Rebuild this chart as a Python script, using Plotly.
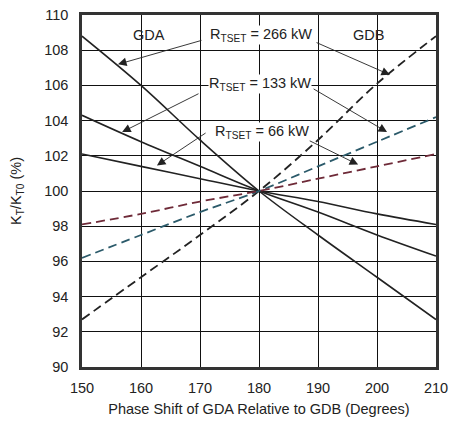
import plotly.graph_objects as go

phase = [150, 160, 170, 180, 190, 200, 210]

# GDA (solid) curves
gda_266 = [108.8, 106.0, 102.9, 100.0, 97.5, 95.1, 92.7]
gda_133 = [104.3, 102.8, 101.4, 100.0, 98.8, 97.5, 96.3]
gda_66 = [102.1, 101.4, 100.7, 100.0, 99.4, 98.7, 98.1]

# GDB (dashed) curves
gdb_266 = [92.7, 95.1, 97.5, 100.0, 102.9, 106.1, 108.8]
gdb_133 = [96.2, 97.5, 98.8, 100.0, 101.4, 102.8, 104.2]
gdb_66 = [98.1, 98.7, 99.4, 100.0, 100.7, 101.4, 102.1]

x_ticks = [150, 160, 170, 180, 190, 200, 210]
y_ticks = [90, 92, 94, 96, 98, 100, 102, 104, 106, 108, 110]

labels = ["R<sub>TSET</sub> = 266 kW", "R<sub>TSET</sub> = 133 kW", "R<sub>TSET</sub> = 66 kW"]
label_pos = [(180.3, 108.86), (180.2, 106.08), (180.5, 103.35)]
# (tail_x, tail_y, head_x, head_y)
arrows = [
    (170.5, 108.58, 156.1, 107.2),
    (189.5, 108.47, 202.2, 106.6),
    (170.0, 105.57, 156.8, 103.35),
    (189.0, 105.85, 201.7, 103.35),
    (171.2, 103.35, 162.7, 101.45),
    (188.3, 102.9, 196.8, 101.5),
]

FONT = "Liberation Sans, Arial, sans-serif"
FS = 14.5

fig = go.Figure()
for ys in [gda_266, gda_133, gda_66]:
    fig.add_trace(go.Scatter(x=phase, y=ys, mode="lines", line=dict(color="#222222", width=1.6),
                             line_shape="spline", showlegend=False, hoverinfo="skip"))
for ys, col in [(gdb_266, "#222222"), (gdb_133, "#2b5a6a"), (gdb_66, "#6e2a38")]:
    fig.add_trace(go.Scatter(x=phase, y=ys, mode="lines",
                             line=dict(color=col, width=1.8, dash="9px,5px"),
                             line_shape="spline", showlegend=False, hoverinfo="skip"))

annotations = []
for (tx, ty, hx, hy) in arrows:
    annotations.append(dict(x=hx, y=hy, ax=tx, ay=ty, xref="x", yref="y", axref="x", ayref="y",
                            text="", showarrow=True, arrowhead=2, arrowsize=1.9, arrowwidth=0.9,
                            arrowcolor="#222222"))
for lab, (lx, ly) in zip(labels, label_pos):
    annotations.append(dict(x=lx, y=ly, xref="x", yref="y", text=lab, showarrow=False,
                            bgcolor="white", borderpad=0,
                            font=dict(size=FS, color="#222222", family=FONT)))
annotations.append(dict(x=161.4, y=108.86, xref="x", yref="y", text="GDA", showarrow=False,
                        font=dict(size=FS, color="#222222", family=FONT)))
annotations.append(dict(x=198.6, y=108.86, xref="x", yref="y", text="GDB", showarrow=False,
                        font=dict(size=FS, color="#222222", family=FONT)))

fig.update_layout(
    template="none",
    width=449, height=422,
    margin=dict(l=82, r=13, t=15, b=55),
    paper_bgcolor="white", plot_bgcolor="white",
    font=dict(family=FONT, size=FS, color="#222222"),
    annotations=annotations,
    xaxis=dict(range=[150, 210], tickvals=x_ticks, showgrid=True, gridcolor="#111111", gridwidth=1,
               showline=True, linecolor="#333333", linewidth=2.5, mirror=True, ticks="",
               zeroline=False, tickfont=dict(size=FS), automargin=False, ticklabelstandoff=6,
               title=dict(text="Phase Shift of GDA Relative to GDB (Degrees)", font=dict(size=FS), standoff=9)),
    yaxis=dict(range=[90, 110], tickvals=y_ticks, showgrid=True, gridcolor="#111111", gridwidth=1,
               showline=True, linecolor="#333333", linewidth=2.5, mirror=True, ticks="",
               zeroline=False, tickfont=dict(size=FS), automargin=False, ticklabelstandoff=8,
               title=dict(text="K<sub>T</sub>/K<sub>T0</sub> (%)", font=dict(size=FS), standoff=20)),
)

fig.write_html("out.html", config={"displayModeBar": False},
               post_script="document.body.style.margin='0';document.body.style.overflow='hidden';")
